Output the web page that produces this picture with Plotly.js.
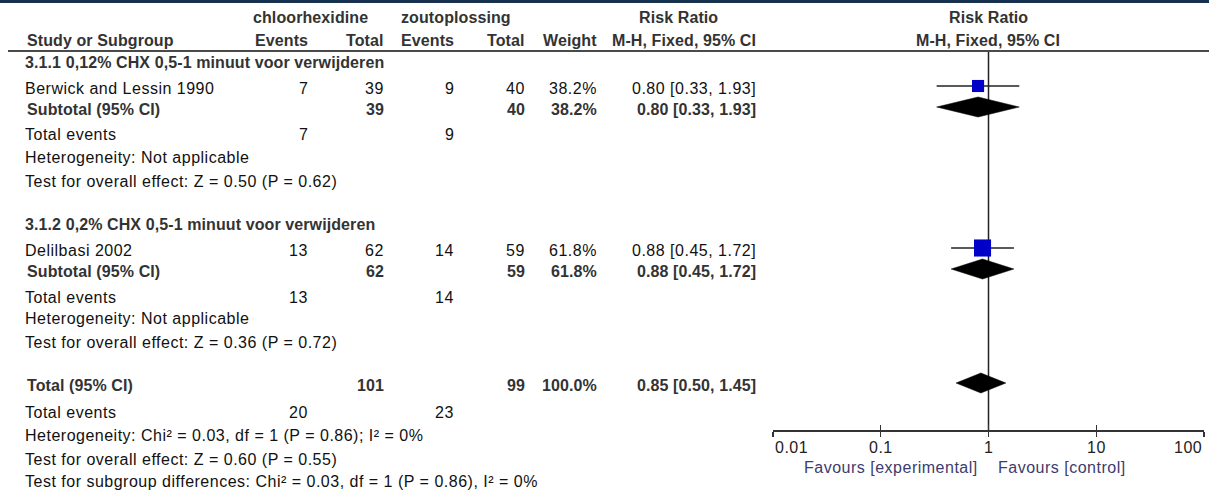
<!DOCTYPE html>
<html>
<head>
<meta charset="utf-8">
<script src="https://cdn.plot.ly/plotly-3.0.1.min.js"></script>
<style>html,body{margin:0;padding:0;background:#fff;}#chart{width:1209px;height:490px;}</style>
</head>
<body>
<div id="chart"></div>
<script>
// ---------- DATA ----------
const groupTitles = ['3.1.1 0,12% CHX 0,5-1 minuut voor verwijderen', '3.1.2 0,2% CHX 0,5-1 minuut voor verwijderen'];
const studies = ['Berwick and Lessin 1990', 'Delilbasi 2002'];
const expEvents = [7, 13];
const expTotal = [39, 62];
const ctrlEvents = [9, 14];
const ctrlTotal = [40, 59];
const weights = [38.2, 61.8];
const rr = [0.80, 0.88];
const rrLow = [0.33, 0.45];
const rrHigh = [1.93, 1.72];
const subWeights = [38.2, 61.8];
const subRR = [0.80, 0.88];
const subLow = [0.33, 0.45];
const subHigh = [1.93, 1.72];
const subHet = ['Heterogeneity: Not applicable', 'Heterogeneity: Not applicable'];
const subTest = ['Test for overall effect: Z = 0.50 (P = 0.62)', 'Test for overall effect: Z = 0.36 (P = 0.72)'];
const totalExpTotal = 101;
const totalCtrlTotal = 99;
const totalExpEvents = 20;
const totalCtrlEvents = 23;
const totalWeight = 100.0;
const totalRR = 0.85, totalLow = 0.50, totalHigh = 1.45;
const totalStats = [
  'Heterogeneity: Chi² = 0.03, df = 1 (P = 0.86); I² = 0%',
  'Test for overall effect: Z = 0.60 (P = 0.55)',
  'Test for subgroup differences: Chi² = 0.03, df = 1 (P = 0.86), I² = 0%'
];
const tickVals = [0.01, 0.1, 1, 10, 100];
const tickText = ['0.01', '0.1', '1', '10', '100'];
const favourLeft = 'Favours [experimental]';
const favourRight = 'Favours [control]';

// ---------- LAYOUT CONSTANTS ----------
const W = 1209, H = 490;
const FONT = 'Liberation Sans, Arial, sans-serif';
const groupRows = [
  {title: 62, study: 88, sub: 109, te: 134, het: 157, test: 181},
  {title: 224, study: 250, sub: 271, te: 297, het: 318, test: 342}
];
const totalRow = 385, totalTE = 412, totalStatRows = [435, 459, 481];
const colName = 23, colBoldName = 25;
const colEvC = 310, colTotC = 386, colEvZ = 456, colTotZ = 527, colW = 599, colRR = 758;
const axisY = 430, topY = 52;
const plotX0 = 773, plotX1 = 1204;
const markOffset = -2;
const diamondHalf = 10;

const fmt2 = v => v.toFixed(2);
const ciText = (e, l, h) => fmt2(e) + ' [' + fmt2(l) + ', ' + fmt2(h) + ']';
const pct = w => w.toFixed(1) + '%';

const annotations = [];
function txt(text, x, y, anchor, opts) {
  opts = opts || {};
  const bold = !!opts.bold;
  let t = bold ? '<b><span style="letter-spacing:0.1px">' + text + '</span></b>'
               : '<span style="letter-spacing:0.5px">' + text + '</span>';
  annotations.push({
    text: t, xref: opts.xref || 'paper', yref: 'y',
    x: opts.xref ? x : x / W, y: y,
    xanchor: anchor, yanchor: 'middle', showarrow: false,
    font: {family: FONT, size: opts.size || 16, color: opts.color || (bold ? '#333333' : '#111111')}
  });
}

// headers
txt('chloorhexidine', 310, 17, 'center', {bold: true});
txt('zoutoplossing', 456, 17, 'center', {bold: true});
txt('Risk Ratio', 678, 17, 'center', {bold: true});
txt('Risk Ratio', 988, 17, 'center', {bold: true});
txt('Study or Subgroup', colBoldName, 40, 'left', {bold: true});
txt('Events', colEvC, 40, 'right', {bold: true});
txt('Total', colTotC, 40, 'right', {bold: true});
txt('Events', colEvZ, 40, 'right', {bold: true});
txt('Total', colTotZ, 40, 'right', {bold: true});
txt('Weight', colW, 40, 'right', {bold: true});
txt('M-H, Fixed, 95% CI', colRR, 40, 'right', {bold: true});
txt('M-H, Fixed, 95% CI', 988, 40, 'center', {bold: true});

const traces = [];
for (let g = 0; g < 2; g++) {
  const r = groupRows[g];
  txt(groupTitles[g], colName, r.title, 'left', {bold: true});
  txt(studies[g], colName, r.study, 'left');
  txt(String(expEvents[g]), colEvC, r.study, 'right');
  txt(String(expTotal[g]), colTotC, r.study, 'right');
  txt(String(ctrlEvents[g]), colEvZ, r.study, 'right');
  txt(String(ctrlTotal[g]), colTotZ, r.study, 'right');
  txt(pct(weights[g]), colW, r.study, 'right');
  txt(ciText(rr[g], rrLow[g], rrHigh[g]), colRR, r.study, 'right');
  txt('Subtotal (95% CI)', colBoldName, r.sub, 'left', {bold: true});
  txt(String(expTotal[g]), colTotC, r.sub, 'right', {bold: true});
  txt(String(ctrlTotal[g]), colTotZ, r.sub, 'right', {bold: true});
  txt(pct(subWeights[g]), colW, r.sub, 'right', {bold: true});
  txt(ciText(subRR[g], subLow[g], subHigh[g]), colRR, r.sub, 'right', {bold: true});
  txt('Total events', colName, r.te, 'left');
  txt(String(expEvents[g]), colEvC, r.te, 'right');
  txt(String(ctrlEvents[g]), colEvZ, r.te, 'right');
  txt(subHet[g], colName, r.het, 'left');
  txt(subTest[g], colName, r.test, 'left');

  const ys = r.study + markOffset;
  // CI line
  traces.push({x: [rrLow[g], rrHigh[g]], y: [ys, ys], type: 'scatter', mode: 'lines',
    line: {color: '#222', width: 1.3}, hoverinfo: 'skip', showlegend: false});
  // square
  traces.push({x: [rr[g]], y: [ys], type: 'scatter', mode: 'markers',
    marker: {symbol: 'square', size: 4 + 0.212 * weights[g], color: '#0000c8', line: {width: 0}},
    hoverinfo: 'skip', showlegend: false});
  // subtotal diamond
  const yd = r.sub + markOffset;
  traces.push({x: [subLow[g], subRR[g], subHigh[g], subRR[g], subLow[g]],
    y: [yd, yd - diamondHalf, yd, yd + diamondHalf, yd], type: 'scatter', mode: 'lines',
    fill: 'toself', fillcolor: '#000', line: {color: '#000', width: 0.5}, hoverinfo: 'skip', showlegend: false});
}

// total
txt('Total (95% CI)', colBoldName, totalRow, 'left', {bold: true});
txt(String(totalExpTotal), colTotC, totalRow, 'right', {bold: true});
txt(String(totalCtrlTotal), colTotZ, totalRow, 'right', {bold: true});
txt(pct(totalWeight), colW, totalRow, 'right', {bold: true});
txt(ciText(totalRR, totalLow, totalHigh), colRR, totalRow, 'right', {bold: true});
txt('Total events', colName, totalTE, 'left');
txt(String(totalExpEvents), colEvC, totalTE, 'right');
txt(String(totalCtrlEvents), colEvZ, totalTE, 'right');
totalStats.forEach((s, i) => txt(s, colName, totalStatRows[i], 'left'));
const yt = totalRow + markOffset;
traces.push({x: [totalLow, totalRR, totalHigh, totalRR, totalLow],
  y: [yt, yt - diamondHalf, yt, yt + diamondHalf, yt], type: 'scatter', mode: 'lines',
  fill: 'toself', fillcolor: '#000', line: {color: '#000', width: 0.5}, hoverinfo: 'skip', showlegend: false});

// dummy trace for overlay axis
traces.push({x: [1], y: [-100], xaxis: 'x2', yaxis: 'y', type: 'scatter', mode: 'markers',
  marker: {opacity: 0}, hoverinfo: 'skip', showlegend: false});

// tick labels (annotation x on a log axis is given in log10 units)
tickVals.forEach((v, i) => {
  const anchor = i === 0 ? 'left' : (i === tickVals.length - 1 ? 'right' : 'center');
  txt(tickText[i], Math.log10(v), 447, anchor, {xref: 'x', size: 16, color: '#222'});
});
txt(favourLeft, 980, 467, 'right', {size: 16, color: '#3c3c6e'});
txt(favourRight, 996, 467, 'left', {size: 16, color: '#3c3c6e'});

const axisPos = (H - axisY) / H;
const baseAxis = {
  type: 'log', range: [-2, 2], domain: [plotX0 / W, plotX1 / W],
  anchor: 'free', position: axisPos, showgrid: false, zeroline: false,
  tickvals: tickVals, showticklabels: false, ticklen: 5, tickwidth: 1.3, tickcolor: '#333'
};
const layout = {
  width: W, height: H, margin: {l: 0, r: 0, t: 0, b: 0},
  paper_bgcolor: '#fff', plot_bgcolor: 'rgba(0,0,0,0)',
  showlegend: false,
  xaxis: Object.assign({}, baseAxis, {ticks: 'outside', showline: true, linecolor: '#333', linewidth: 1.5}),
  xaxis2: Object.assign({}, baseAxis, {ticks: 'inside', overlaying: 'x', showline: false}),
  yaxis: {range: [H, 0], domain: [0, 1], visible: false, showgrid: false, zeroline: false, fixedrange: true},
  annotations: annotations,
  shapes: [
    {type: 'rect', xref: 'paper', yref: 'y', x0: 0, x1: 1, y0: 0, y1: 3, fillcolor: '#17314f', line: {width: 0}, layer: 'above'},
    {type: 'line', xref: 'paper', yref: 'y', x0: 8 / W, x1: 1, y0: 51, y1: 51, line: {color: '#4a4a4a', width: 2}},
    {type: 'line', xref: 'x', yref: 'y', x0: 1, x1: 1, y0: topY, y1: axisY, line: {color: '#222', width: 1.5}, layer: 'below'}
  ]
};
Plotly.newPlot('chart', traces, layout, {staticPlot: true, displayModeBar: false});
</script>
</body>
</html>
